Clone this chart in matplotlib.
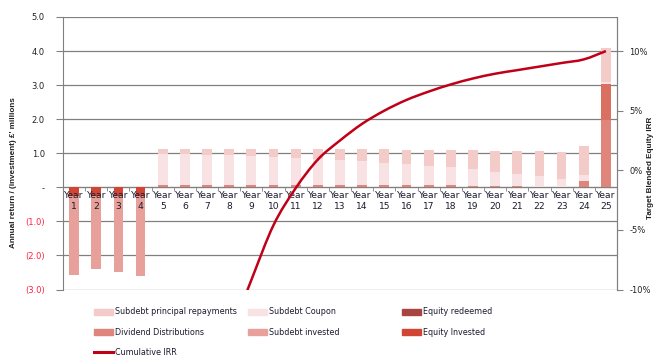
import numpy as np
import matplotlib
matplotlib.use("Agg")
import matplotlib.pyplot as plt
from matplotlib.patches import Patch, PathPatch
from matplotlib.path import Path
from matplotlib.lines import Line2D
from matplotlib.ticker import FixedLocator, FuncFormatter

YEARS = list(range(1, 26))
YEAR_LABELS = [f"Year\n{y}" for y in YEARS]

# £ millions, per year
EQUITY_INVESTED = [-0.25, -0.25, -0.25, -0.26] + [0.0] * 21
SUBDEBT_INVESTED = [-2.32, -2.14, -2.24, -2.34] + [0.0] * 21
DIVIDENDS = [0.0, 0.0, 0.0, 0.0,
             0.07, 0.07, 0.07, 0.07, 0.07, 0.07, 0.07, 0.07, 0.07,
             0.06, 0.06, 0.06, 0.06, 0.06,
             0.04, 0.04, 0.04, 0.02, 0.01, 0.19, 1.99]
EQUITY_REDEEMED = [0.0] * 24 + [1.04]
SUBDEBT_COUPON = [0.0, 0.0, 0.0, 0.0,
                  0.90, 0.90, 0.89, 0.87, 0.85, 0.82, 0.80, 0.77, 0.73,
                  0.70, 0.66, 0.62, 0.58, 0.53, 0.49, 0.42, 0.36, 0.30,
                  0.24, 0.17, 0.07]
SUBDEBT_PRINCIPAL = [0.0, 0.0, 0.0, 0.0,
                     0.16, 0.16, 0.17, 0.19, 0.21, 0.23, 0.25, 0.28, 0.32,
                     0.36, 0.40, 0.42, 0.46, 0.51, 0.57, 0.61, 0.67, 0.75,
                     0.80, 0.86, 0.99]
CUMULATIVE_IRR = [np.nan] * 7 + [-0.14, -0.092, -0.046, -0.015, 0.009, 0.025,
                                 0.039, 0.050, 0.059, 0.066, 0.072, 0.077,
                                 0.081, 0.084, 0.087, 0.090, 0.093, 0.100]

C_PRINCIPAL = "#f3cbc8"
C_COUPON = "#f8e2e4"
C_REDEEMED_BAR = "#d97062"
C_REDEEMED_LEG = "#a94440"
C_DIVIDEND = "#e0857c"
C_SUB_INV = "#e8a19a"
C_EQ_INV = "#d24433"
C_IRR = "#c00018"
GRID = "#808080"
TEXT = "#1a1a2e"


def smooth_path(xs, ys):
    # Excel-style smoothed line: Catmull-Rom segments as cubic Beziers
    pts = np.column_stack([xs, ys])
    verts = [pts[0]]
    codes = [Path.MOVETO]
    n = len(pts)
    for i in range(n - 1):
        p0 = pts[max(i - 1, 0)]
        p1 = pts[i]
        p2 = pts[i + 1]
        p3 = pts[min(i + 2, n - 1)]
        verts += [p1 + (p2 - p0) / 6, p2 - (p3 - p1) / 6, p2]
        codes += [Path.CURVE4] * 3
    return Path(verts, codes)


plt.rcParams["font.family"] = "DejaVu Sans"

fig = plt.figure(figsize=(6.65, 3.63), dpi=100)
W, H = 665, 363
ax = fig.add_axes([63 / W, 1 - 289.5 / H, 554 / W, 272.5 / H])

x = np.array(YEARS)
bw = 0.44
div = np.array(DIVIDENDS)
red = np.array(EQUITY_REDEEMED)
cou = np.array(SUBDEBT_COUPON)
pri = np.array(SUBDEBT_PRINCIPAL)
eqi = np.array(EQUITY_INVESTED)
sbi = np.array(SUBDEBT_INVESTED)

ax.bar(x, div, bw, color=C_DIVIDEND, zorder=2)
ax.bar(x, red, bw, bottom=div, color=C_REDEEMED_BAR, zorder=2)
ax.bar(x, cou, bw, bottom=div + red, color=C_COUPON, zorder=2)
ax.bar(x, pri, bw, bottom=div + red + cou, color=C_PRINCIPAL, zorder=2)
ax.bar(x, eqi, bw, color=C_EQ_INV, zorder=2)
ax.bar(x, sbi, bw, bottom=eqi, color=C_SUB_INV, zorder=2)

ax.set_xlim(0.5, 25.5)
ax.set_ylim(-3.0, 5.0)
ax.set_yticks(np.arange(-3, 6, 1.0))


def money(v, pos):
    if abs(v) < 1e-9:
        return "-"
    if v < 0:
        return f"({abs(v):.1f})"
    return f"{v:.1f}"


ax.yaxis.set_major_formatter(FuncFormatter(money))
ax.grid(axis="y", color=GRID, linewidth=0.9, zorder=0)
ax.set_axisbelow(True)
ax.xaxis.set_zorder(3)
ax.spines["top"].set_visible(False)
ax.spines["left"].set_color(GRID)
ax.spines["right"].set_color(GRID)
ax.spines["bottom"].set_position(("data", 0))
ax.spines["bottom"].set_color(GRID)
ax.spines["bottom"].set_zorder(1)

ax.set_xticks(x)
ax.set_xticklabels(YEAR_LABELS, fontsize=6.6, color=TEXT, linespacing=1.15)
ax.tick_params(axis="x", which="major", length=0, pad=3)
ax.xaxis.set_minor_locator(FixedLocator(np.arange(1.5, 25, 1.0)))
ax.tick_params(axis="x", which="minor", length=3, color=GRID, direction="out")
ax.tick_params(axis="y", length=5, color=GRID, labelsize=6, pad=8)
for lab, v in zip(ax.get_yticklabels(), ax.get_yticks()):
    lab.set_color("#ff2040" if v < 0 else "#222222")

ax.set_ylabel("Annual return / (investment) £' millions", fontsize=5.9,
              fontweight="bold", color="#222222", family="Liberation Sans")
ax.yaxis.set_label_coords(-0.083, 0.43)

ax2 = ax.twinx()
irr = np.array(CUMULATIVE_IRR)
ok = ~np.isnan(irr)
ax2.add_patch(PathPatch(smooth_path(x[ok], irr[ok]), facecolor="none",
                        edgecolor=C_IRR, lw=1.8, zorder=5))
ax2.set_ylim(-0.10, 0.10 + 0.20 / 7)
ax2.set_yticks([-0.10, -0.05, 0.0, 0.05, 0.10])
ax2.yaxis.set_major_formatter(FuncFormatter(lambda v, p: f"{v * 100:.0f}%"))
ax2.tick_params(axis="y", length=4, color=GRID, labelsize=6, pad=5,
                labelcolor="#222222")
for side in ("top", "bottom", "left"):
    ax2.spines[side].set_visible(False)
ax2.spines["right"].set_color(GRID)
ax2.set_ylabel("Target Blended Equity IRR", fontsize=5.9, fontweight="bold",
               color="#222222", family="Liberation Sans")
ax2.yaxis.set_label_coords(1.055, 0.445)

legend_cols = [
    ([Patch(color=C_PRINCIPAL), Patch(color=C_DIVIDEND),
      Line2D([], [], color=C_IRR, lw=2.2)],
     ["Subdebt principal repayments", "Dividend Distributions", "Cumulative IRR"],
     94),
    ([Patch(color=C_COUPON), Patch(color=C_SUB_INV)],
     ["Subdebt Coupon", "Subdebt invested"], 248),
    ([Patch(color=C_REDEEMED_LEG), Patch(color=C_EQ_INV)],
     ["Equity redeemed", "Equity Invested"], 402),
]
for handles, labels, px in legend_cols:
    fig.legend(handles, labels, loc="upper left",
               bbox_to_anchor=(px / W, 1 - 307.5 / H), frameon=False,
               fontsize=5.8, borderpad=0, borderaxespad=0,
               handlelength=2.3, handletextpad=0.3, labelspacing=1.4,
               labelcolor="#1a1a2e")

fig.savefig("out.png", dpi=100)
